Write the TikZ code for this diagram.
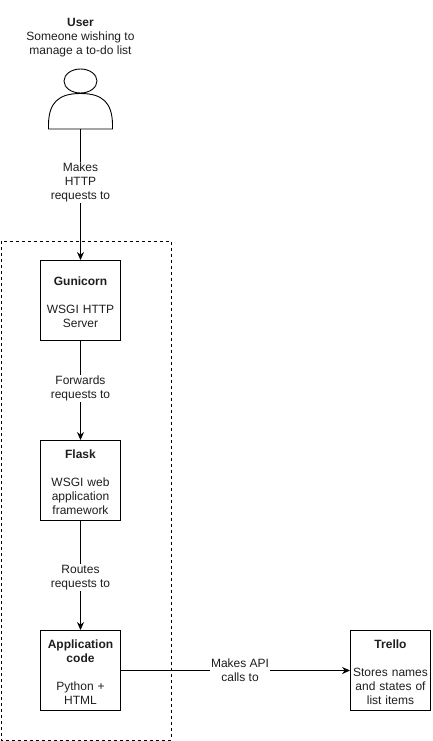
\documentclass[tikz,border=0pt]{standalone}
\usepackage{fontspec}
\setmainfont{Liberation Sans}
\usetikzlibrary{arrows.meta}

\definecolor{cctext}{RGB}{30,30,30}

\newcommand{\boxtitle}[1]{\rule{0pt}{11.5pt}\textbf{#1}}

\tikzset{
  boxnode/.style={draw, line width=0.9pt, minimum width=80, minimum height=80, inner sep=0pt,
    text width=78, align=center, text=cctext, font=\fontsize{12}{14}\selectfont},
  textnode/.style={fill=white, inner sep=1pt, align=center, text=cctext, font=\fontsize{12}{14}\selectfont},
  linkarrow/.style={line width=0.9pt, -{Stealth[length=8pt, width=7pt]}}
}

\begin{document}
\begin{tikzpicture}[x=1pt, y=-1pt]

  % Bounding box of the scheme
  \useasboundingbox (0,0) rectangle (432,741);

  %%%%%%%%%%%%%%%%%%%%%%%%%%%%%%%%% Docker container %%%%%%%%%%%%%%%%%%%%%%%%%%%%%%%%%%%%
  \draw[dashed, line width=0.9pt] (1,241) rectangle (171,740);

  %%%%%%%%%%%%%%%%%%%%%%%%%%%%%%%%% User %%%%%%%%%%%%%%%%%%%%%%%%%%%%%%%%%%%%
  \draw (80.5,38) node[textnode, fill=none] (userlabel) {\textbf{User}\\Someone wishing to\\manage a to-do list} ;
  \draw[line width=0.9pt] (80.5,81) ellipse [x radius=16.5, y radius=12] ;
  \draw[line width=0.9pt] (48.5,129) -- (48.5,124) .. controls (49,103) and (58,93.5) .. (80.5,93.5) .. controls (103,93.5) and (112,103) .. (112.5,124) -- (112.5,129) -- cycle ;
  \coordinate (userfoot) at (80.5,129) ;

  %%%%%%%%%%%%%%%%%%%%%%%%%%%%%%%%% Boxes %%%%%%%%%%%%%%%%%%%%%%%%%%%%%%%%%%%%
  \draw (80.5,300.5) node[boxnode] (gunicorn) {\boxtitle{Gunicorn}\\[14pt]WSGI HTTP\\Server} ;
  \draw (80.5,480.5) node[boxnode] (flask) {\boxtitle{Flask}\\[14pt]WSGI web\\application\\framework} ;
  \draw (80.5,670.5) node[boxnode] (appcode) {\boxtitle{Application}\\\textbf{code}\\[14pt]Python +\\HTML} ;
  \draw (390.5,670.5) node[boxnode] (trello) {\boxtitle{Trello}\\[14pt]Stores names\\and states of\\list items} ;

  %%%%%%%%%%%%%%%%%%%%%%%%%%%%%%%%% Arrows %%%%%%%%%%%%%%%%%%%%%%%%%%%%%%%%%%%%
  \draw[linkarrow] (userfoot) -- (gunicorn) node[pos=0.41, textnode] (makeshttp) {Makes\\HTTP\\requests to} ;
  \draw[linkarrow] (gunicorn) -- (flask) node[pos=0.48, textnode] (forwards) {Forwards\\requests to} ;
  \draw[linkarrow] (flask) -- (appcode) node[pos=0.52, textnode] (routes) {Routes\\requests to} ;
  \draw[linkarrow] (appcode) -- (trello) node[pos=0.52, textnode] (makesapi) {Makes API\\calls to} ;

\end{tikzpicture}
\end{document}
